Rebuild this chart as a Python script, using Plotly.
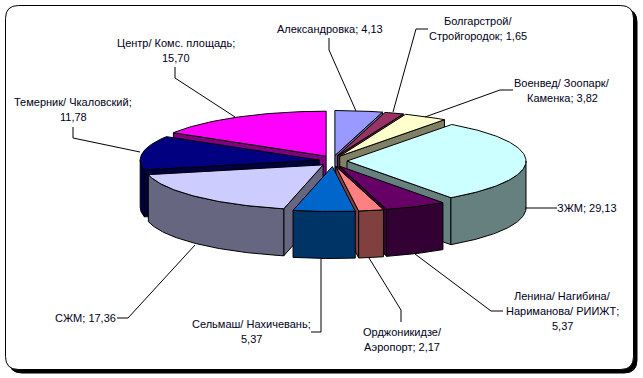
import math
import numpy as np
import plotly.graph_objects as go

# Data
labels = ["Александровка; 4,13", "Болгарстрой/<br>Стройгородок; 1,65", "Военвед/ Зоопарк/<br>Каменка; 3,82",
          "ЗЖМ; 29,13", "Ленина/ Нагибина/<br>Нариманова/ РИИЖТ;<br>5,37", "Орджоникидзе/<br>Аэропорт; 2,17",
          "Сельмаш/ Нахичевань;<br>5,37", "СЖМ; 17,36", "Темерник/ Чкаловский;<br>11,78", "Центр/ Комс. площадь;<br>15,70"]
values = [4.13, 1.65, 3.82, 29.13, 5.37, 2.17, 5.37, 17.36, 11.78, 15.70]

# Styling
top_colors = ["#9999FF", "#993366", "#FFFFCC", "#CCFFFF", "#660066", "#FF8080", "#0066CC", "#CCCCFF", "#000080", "#FF00FF"]
side_colors = ["#666699", "#66223F", "#808066", "#668080", "#330033", "#804040", "#003366", "#666680", "#000040", "#800080"]
label_xy = [(330, 29), (478, 28), (562, 90), (587, 208), (562, 311), (402, 339), (251, 331), (85, 318), (73, 109), (176, 50)]
leaders = [
    [(329, 38), (329, 50), (356, 111)],
    [(428, 29), (416, 29), (393, 112)],
    [(513, 90), (500, 90), (425, 117)],
    [(557, 208), (525, 208)],
    [(503, 311), (491, 311), (415, 254)],
    [(401, 322), (401, 310), (369, 258)],
    [(311, 332), (321, 332), (321, 258)],
    [(117, 318), (128, 318), (195, 245)],
    [(73, 127), (73, 138), (140, 152)],
    [(175, 67), (175, 78), (235, 117)],
]

CX, CY, RX, RY, EX, EY, DEPTH = 333, 161, 179, 45, 14, 5.5, 47
LINE_STEP = 15

fig = go.Figure()


def poly(xs, ys, fill):
    fig.add_trace(go.Scatter(x=list(xs), y=list(ys), mode="lines", fill="toself", fillcolor=fill,
                             line=dict(color="black", width=1), hoverinfo="skip", showlegend=False))


total = sum(values)
slices = []
cum = 0.0
for i, v in enumerate(values):
    a0 = cum / total * 2 * math.pi
    cum += v
    a1 = cum / total * 2 * math.pi
    slices.append((i, a0, a1))
slices.sort(key=lambda s: -math.cos((s[1] + s[2]) / 2))

for i, a0, a1 in slices:
    mid = (a0 + a1) / 2
    ax = CX + EX * math.sin(mid)
    ay = CY - EY * math.cos(mid)
    th = np.linspace(a0, a1, max(3, int((a1 - a0) * 60)))
    rx = ax + RX * np.sin(th)
    ry = ay - RY * np.cos(th)
    # radial walls facing the viewer
    if math.sin(a0) < -1e-6:
        poly([ax, rx[0], rx[0], ax, ax], [ay, ry[0], ry[0] + DEPTH, ay + DEPTH, ay], side_colors[i])
    if math.sin(a1) > 1e-6:
        poly([ax, rx[-1], rx[-1], ax, ax], [ay, ry[-1], ry[-1] + DEPTH, ay + DEPTH, ay], side_colors[i])
    # outer wall: front half of the rim only
    lo, hi = max(a0, math.pi / 2), min(a1, 3 * math.pi / 2)
    if hi > lo:
        t2 = np.linspace(lo, hi, max(3, int((hi - lo) * 60)))
        wx = ax + RX * np.sin(t2)
        wy = ay - RY * np.cos(t2)
        poly(np.r_[wx, wx[::-1], wx[0]], np.r_[wy, wy[::-1] + DEPTH, wy[0]], side_colors[i])
    # top face
    poly(np.r_[ax, rx, ax], np.r_[ay, ry, ay], top_colors[i])

for pts in leaders:
    fig.add_trace(go.Scatter(x=[p[0] for p in pts], y=[p[1] for p in pts], mode="lines",
                             line=dict(color="black", width=1), hoverinfo="skip", showlegend=False))

annotations = []
for t, (x, y) in zip(labels, label_xy):
    rows = t.split("<br>")
    for k, row in enumerate(rows):
        annotations.append(dict(x=x, y=y + (k - (len(rows) - 1) / 2) * LINE_STEP, xref="x", yref="y", text=row,
                                showarrow=False, align="center", xanchor="center", yanchor="middle",
                                font=dict(family="Liberation Sans, Arial, sans-serif", size=11, color="#000020")))


def rrect(l, t, r, b, c):
    return (f"M{l + c},{t} L{r - c},{t} Q{r},{t} {r},{t + c} L{r},{b - c} Q{r},{b} {r - c},{b} "
            f"L{l + c},{b} Q{l},{b} {l},{b - c} L{l},{t + c} Q{l},{t} {l + c},{t} Z")


shapes = [
    dict(type="path", path=rrect(9, 9, 637, 373, 13), xref="x", yref="y", fillcolor="black",
         line=dict(color="black", width=1), layer="below"),
    dict(type="path", path=rrect(5.5, 5.5, 633.5, 369.5, 13), xref="x", yref="y", fillcolor="white",
         line=dict(color="black", width=1), layer="below"),
]

fig.update_layout(
    width=643, height=378, margin=dict(l=0, r=0, t=0, b=0),
    paper_bgcolor="white", plot_bgcolor="white",
    xaxis=dict(range=[0, 643], visible=False, fixedrange=True),
    yaxis=dict(range=[378, 0], visible=False, fixedrange=True),
    shapes=shapes, annotations=annotations, showlegend=False,
)
fig.write_html("out.html", config={"displayModeBar": False},
               post_script="document.body.style.margin='0';document.documentElement.style.overflow='hidden';window.dispatchEvent(new Event('resize'));")
